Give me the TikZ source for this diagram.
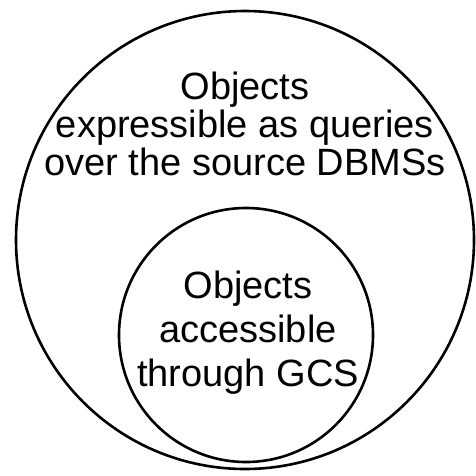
\documentclass[tikz,border=0pt]{standalone}
\usepackage{fontspec}
\setmainfont{Liberation Sans}
\usetikzlibrary{positioning}
\tikzset{%
  set/.style={draw, circle, line width=2.6pt, inner sep=0mm},
  caption/.style={anchor=base, inner sep=0mm, font=\fontsize{38}{40}\selectfont},
}

\begin{document}
\begin{tikzpicture}[x=1pt, y=-1pt]
  \useasboundingbox (0,0) rectangle (476,475);

  \node[set, minimum size=458pt] (outer) at (245,240) {};
  \node[set, minimum size=254pt] (inner) at (246,335) {};

  \node[caption] (o1) at (245,99) {Objects};
  \node[caption] (o2) at (245,137) {expressible as queries};
  \node[caption] (o3) at (245,175) {over the source DBMSs};

  \node[caption] (i1) at (248,298) {Objects};
  \node[caption] (i2) at (248,342) {accessible};
  \node[caption] (i3) at (248,386) {through GCS};
\end{tikzpicture}
\end{document}
